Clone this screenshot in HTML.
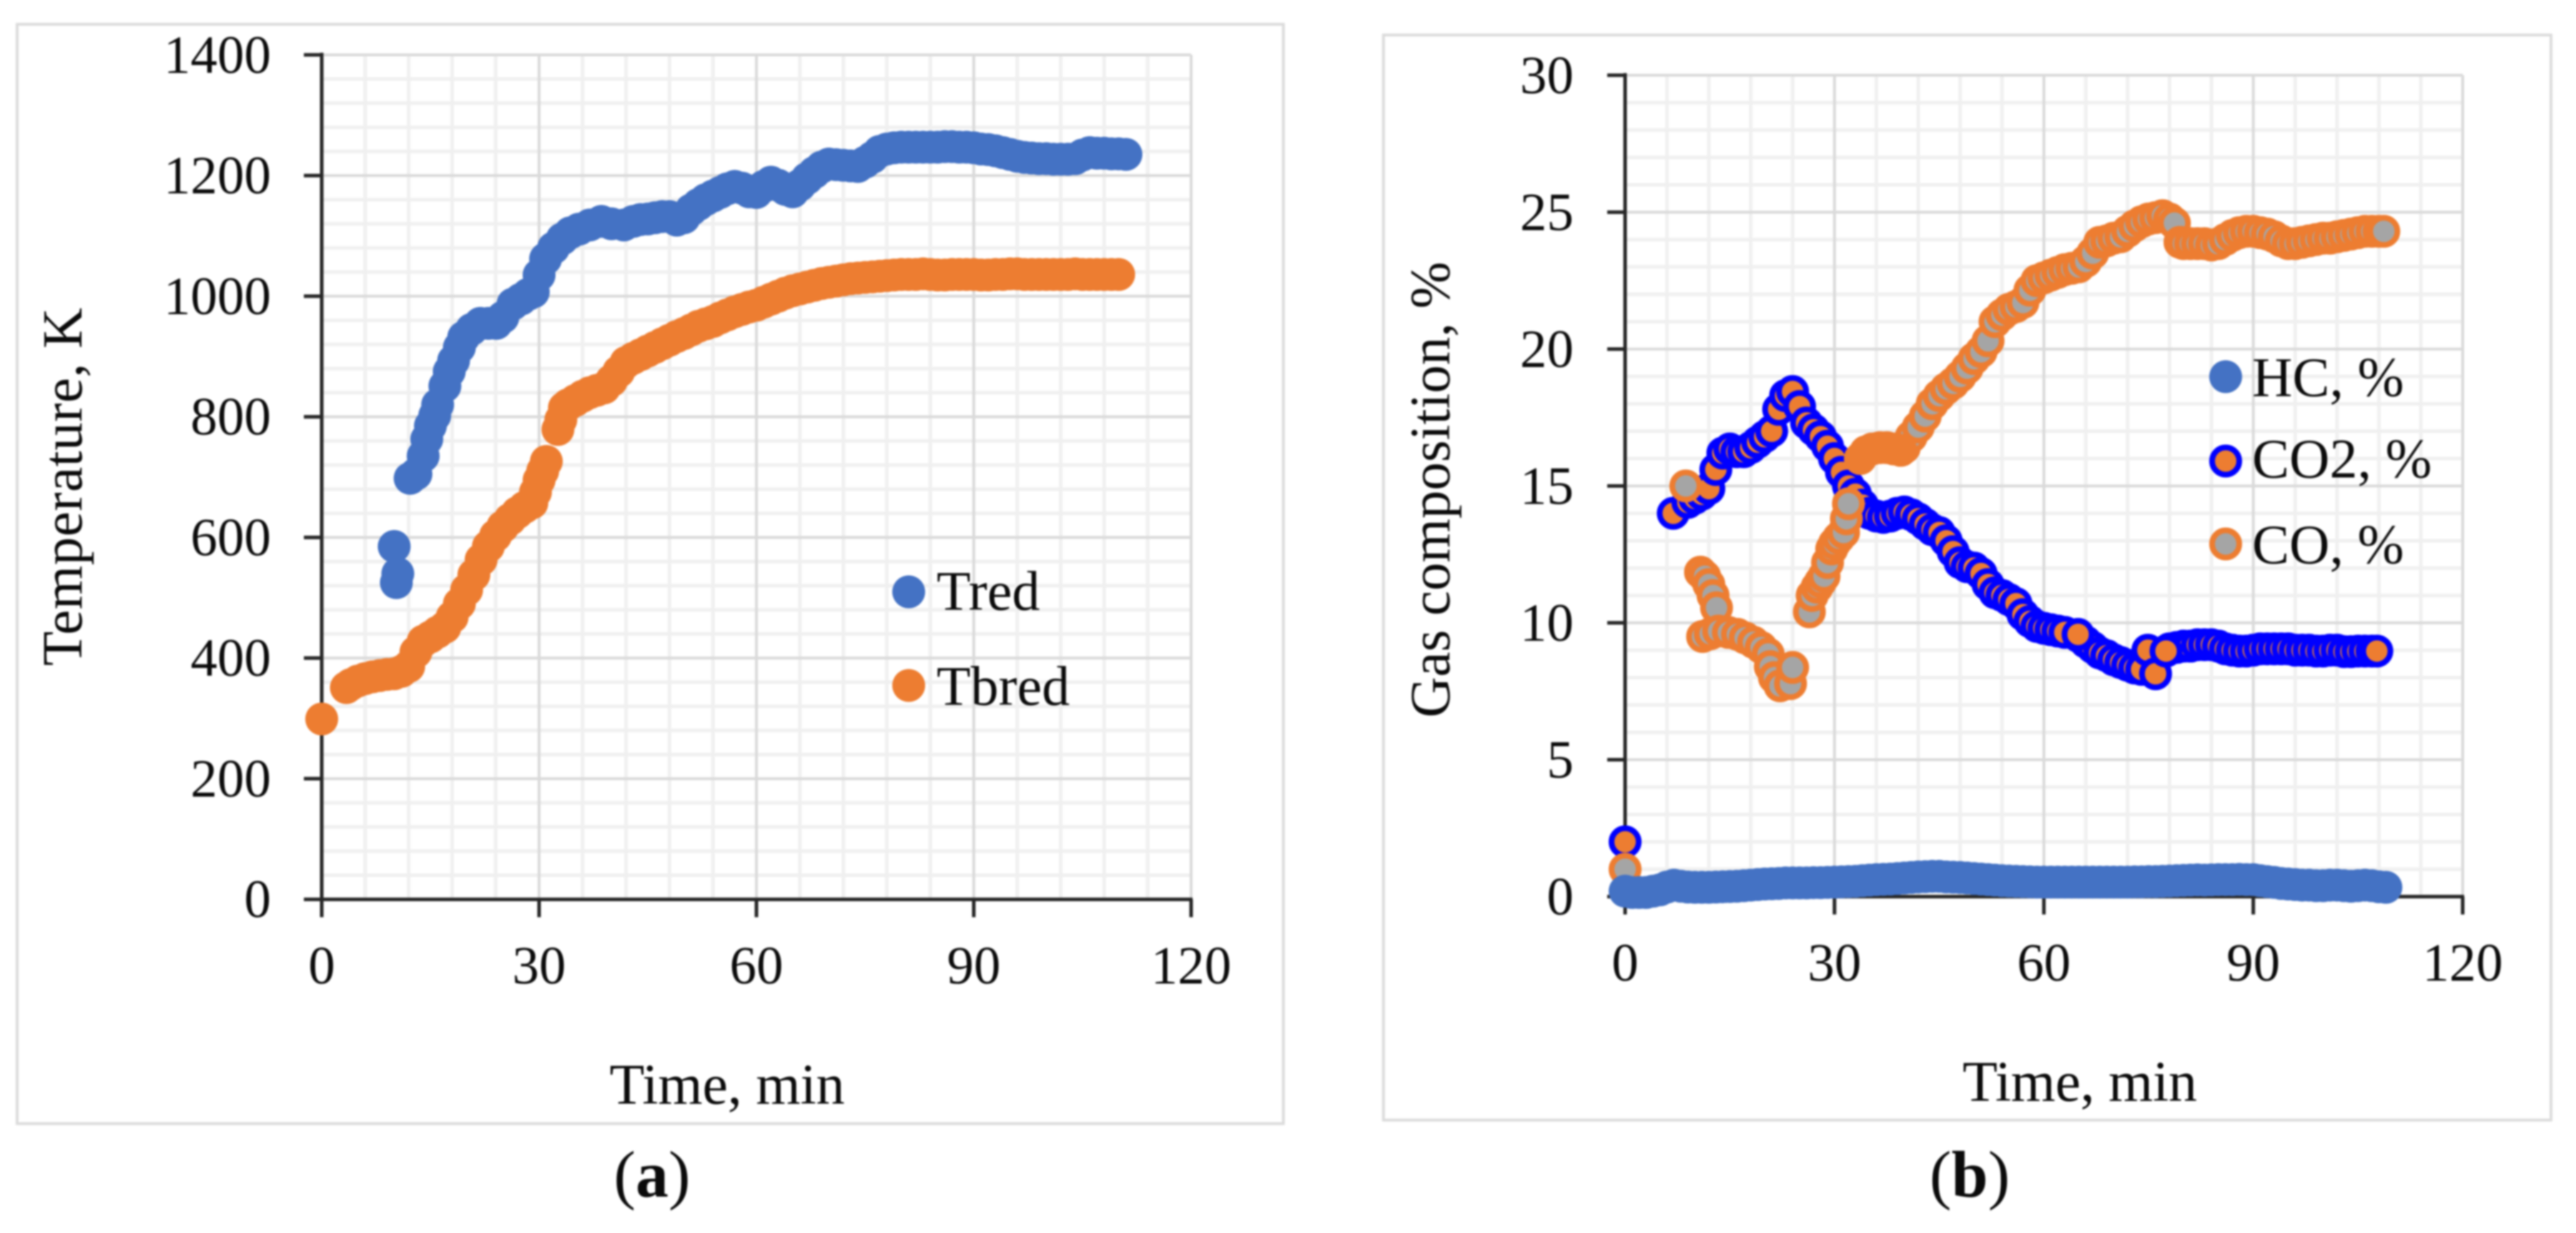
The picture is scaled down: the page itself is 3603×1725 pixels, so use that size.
<!DOCTYPE html>
<html lang="en">
<head>
<meta charset="utf-8">
<title>Temperature and gas composition over time</title>
<style>
html,body{margin:0;padding:0;background:#fff;width:3603px;height:1725px;overflow:hidden}
svg{display:block;filter:blur(1.3px)}
text{font-family:"Liberation Serif",serif;fill:#0a0a0a}
</style>
</head>
<body>
<svg id="figure" xmlns="http://www.w3.org/2000/svg" width="3603" height="1725" viewBox="0 0 3603 1725">
  <rect width="3603" height="1725" fill="#fff"/>
  <rect x="24" y="34" width="1771" height="1538" fill="#fff" stroke="#dcdcdc" stroke-width="4"/>
  <rect x="1935" y="49" width="1633" height="1518" fill="#fff" stroke="#dcdcdc" stroke-width="4"/>
  <g id="panel-a"></g>
  <g id="panel-b"></g>

  <text transform="translate(114 681) rotate(-90)" text-anchor="middle" font-size="79" textLength="501">Temperature, K</text>
  <text x="1017" y="1544" text-anchor="middle" font-size="80" textLength="329">Time, min</text>
  <text transform="translate(2027 685) rotate(-90)" text-anchor="middle" font-size="79" textLength="638">Gas composition, %</text>
  <text x="2909" y="1540" text-anchor="middle" font-size="80" textLength="328">Time, min</text>

  <g>
    <circle cx="1271" cy="828" r="23" fill="#4472c4"/>
    <text x="1310" y="853" font-size="78">Tred</text>
    <circle cx="1271" cy="959" r="23" fill="#ed7d31"/>
    <text x="1310" y="986" font-size="78">Tbred</text>
  </g>
  <g>
    <circle cx="3113" cy="527" r="23" fill="#4472c4"/>
    <text x="3150" y="554" font-size="78">HC, %</text>
    <circle cx="3113" cy="645" r="19" fill="#ed7d31" stroke="#0000ff" stroke-width="8"/>
    <text x="3150" y="668" font-size="78">CO2, %</text>
    <circle cx="3113" cy="761" r="19" fill="#a5a5a5" stroke="#ed7d31" stroke-width="8"/>
    <text x="3150" y="788" font-size="78">CO, %</text>
  </g>

  <text x="912" y="1674" text-anchor="middle" font-size="92">(<tspan font-weight="bold">a</tspan>)</text>
  <text x="2755" y="1674" text-anchor="middle" font-size="92">(<tspan font-weight="bold">b</tspan>)</text>
</svg>
<script>
const xTickLabels = [0, 30, 60, 90, 120];
const tempTickLabels = [0, 200, 400, 600, 800, 1000, 1200, 1400];
const gasTickLabels = [0, 5, 10, 15, 20, 25, 30];

const tredTime = [10,10.3,10.5,12.2,13,14,14.5,15,15.6,16,
17,17.6,18.2,19,19.6,20.7,21.9,23,24.1,25,
26.4,27.5,28.5,29.2,30,30.9,32,33.2,34.3,35.5,
37,38.6,40,41.7,43,44,45,46,47,48,
49,50,51,52,53,54,55,56,57,58,
59,60,61,62,63,64,65,66,67,68,
69,70,71,72,73,74,75,76,77,78,
79,80,81,82,83,84,85,86,87,88,
89,90,91,92,93,94,95,96,97,98,
99,100,101,102,103,104,105,106,107,108,
109,110,111];
const tredValues = [585,525,540,698,705,735,763,785,802,820,
851,875,893,915,932,945,955,955,955,965,
987,995,1003,1007,1035,1062,1080,1095,1105,1111,
1118,1124,1120,1118,1124,1127,1128,1130,1132,1132,
1126,1130,1143,1152,1160,1166,1172,1178,1182,1179,
1173,1172,1182,1189,1184,1177,1173,1184,1195,1205,
1214,1219,1218,1217,1216,1215,1222,1230,1240,1244,
1246,1247,1247,1247,1247,1247,1247,1248,1248,1247,
1247,1246,1244,1243,1241,1238,1235,1232,1230,1229,
1228,1228,1227,1227,1227,1228,1234,1238,1237,1237,
1236,1236,1235];

const tbredTime = [0,3.4,4,5,6,7,8,9,10,11,
12,13,14,15,16,17,18,19,20,21,
22,23,24,25,26,27,28,29,29.5,30,
30.5,31,32.6,33,33.5,34,35,36,37,38,
39,40,41,42,43,44,45,46,47,48,
49,50,51,52,53,54,55,56,57,58,
59,60,61,62,63,64,65,66,67,68,
69,70,71,72,73,74,75,76,77,78,
79,80,81,82,83,84,85,86,87,88,
89,90,91,92,93,94,95,96,97,98,
99,100,101,102,103,104,105,106,107,108,
109,110];
const tbredValues = [299,351,356,362,366,369,371,373,374,378,
386,410,428,435,443,451,468,490,513,538,
563,585,603,618,630,641,650,657,675,695,
710,726,779,795,815,820,827,834,840,844,
848,860,875,890,897,903,909,915,921,927,
933,938,944,950,954,958,964,969,974,978,
982,985,990,995,1000,1005,1009,1012,1015,1018,
1021,1023,1025,1027,1029,1030,1031,1032,1033,1034,
1035,1036,1036,1036,1037,1036,1035,1035,1036,1036,
1036,1036,1035,1035,1036,1036,1037,1037,1036,1036,
1036,1036,1036,1036,1036,1037,1036,1036,1036,1036,
1036,1036];

const hcTime = [0,1,2,3,4,5,6,7,8,9,
10,11,12,13,14,15,16,17,18,19,
20,21,22,23,24,25,26,27,28,29,
30,31,32,33,34,35,36,37,38,39,
40,41,42,43,44,45,46,47,48,49,
50,51,52,53,54,55,56,57,58,59,
60,61,62,63,64,65,66,67,68,69,
70,71,72,73,74,75,76,77,78,79,
80,81,82,83,84,85,86,87,88,89,
90,91,92,93,94,95,96,97,98,99,
100,101,102,103,104,105,106,107,108,109];
const hcValues = [0.2,0.15,0.15,0.15,0.2,0.25,0.35,0.42,0.38,0.35,
0.34,0.34,0.34,0.35,0.36,0.37,0.38,0.4,0.42,0.44,
0.46,0.47,0.48,0.5,0.5,0.5,0.5,0.51,0.51,0.52,
0.53,0.54,0.55,0.56,0.58,0.6,0.62,0.63,0.64,0.66,
0.68,0.7,0.72,0.73,0.74,0.74,0.72,0.71,0.7,0.68,
0.66,0.64,0.62,0.6,0.58,0.57,0.56,0.55,0.54,0.53,
0.53,0.53,0.53,0.53,0.53,0.53,0.53,0.53,0.53,0.53,
0.53,0.53,0.53,0.54,0.54,0.55,0.55,0.56,0.57,0.58,
0.59,0.6,0.61,0.6,0.61,0.62,0.62,0.62,0.63,0.62,
0.62,0.58,0.55,0.52,0.48,0.46,0.44,0.42,0.42,0.4,
0.4,0.42,0.42,0.4,0.38,0.4,0.42,0.4,0.36,0.34];

const co2Time = [0,6.9,9,10,11,12,13,14,15,16,
17,18,19,20,21,22,23,24,25,26,
27,28,29,30,31,32,33,34,35,36,
37,38,39,40,41,42,43,44,45,46,
47,48,49,50,51,52,53,54,55,56,
57,58,59,60,61,62,63,65,66,67,
68,69,70,71,72,73,74,74.9,78,79,
80,81,82,83,84,85,86,87,88,89,
90,91,92,93,94,95,96,97,98,99,
100,101,102,103,104,105,106,107,107.7,64.9,
76,77.5];
const co2Values = [2,14,14.4,14.55,14.7,14.9,15.6,16.2,16.35,16.25,
16.25,16.4,16.6,16.8,17,17.8,18.3,18.45,17.9,17.3,
17.05,16.8,16.45,16,15.5,15,14.7,14.3,14,13.9,
13.85,13.9,14,14.05,13.95,13.8,13.6,13.4,13.3,13,
12.6,12.2,12.05,12,11.8,11.4,11.1,11,10.85,10.7,
10.3,10.05,9.87,9.8,9.75,9.7,9.65,9.5,9.3,9.1,
8.9,8.8,8.65,8.55,8.45,8.35,8.3,9,9.05,9.1,
9.15,9.15,9.2,9.2,9.2,9.15,9.05,9,8.97,8.97,
9,9.05,9.05,9.05,9.05,9.05,9,9,9,8.97,
8.97,9,9,8.95,8.95,8.97,8.97,8.97,8.97,9.58,
8.14,8.97];

const coTime = [0,8.7,10.8,11.4,12,12.6,13.1,11.1,12.2,13.4,
14.8,16.1,17.2,18.4,19.5,20.5,20.8,21.4,22.2,23.7,
24,26.4,26.8,27.5,28,28.5,29,29.6,30,30.6,
31.3,31.7,32,40,41,42,43,44,45,46,
47,48,49,50,51,52,53,54,55,56,
57,58,59,60,61,62,63,64,65,66,
67,68,69,70,71,72,73,74,75,76,
77,78,78.7,79.5,80,81,82,83,84,85,
86,87,88,89,90,91,92,93,94,95,
96,97,98,99,100,101,102,103,104,105,
106,107,108,108.7];
const coValues = [1,15,11.85,11.7,11.4,11,10.55,9.5,9.6,9.7,
9.65,9.58,9.45,9.29,9.1,8.86,8.4,8,7.7,7.78,
8.37,10.4,11,11.3,11.5,11.7,12.2,12.7,12.9,13.1,
13.3,13.8,14.35,16.4,16.8,17.15,17.55,18,18.3,18.55,
18.75,19,19.3,19.65,19.9,20.3,21,21.25,21.45,21.55,
21.7,22.15,22.5,22.6,22.7,22.8,22.9,22.95,23,23.2,
23.5,23.9,23.95,24.05,24.1,24.3,24.5,24.65,24.75,24.8,
24.87,24.75,24.6,23.9,23.85,23.85,23.85,23.85,23.8,23.85,
24,24.15,24.25,24.3,24.3,24.25,24.2,24.1,23.95,23.85,
23.85,23.9,23.95,24,24.05,24.05,24.1,24.15,24.2,24.25,
24.3,24.3,24.3,24.3];

const coPlateauTime = [33.7,34.5,35.4,36.5,37.5,38.5,39.5];
const coPlateauValues = [16,16.25,16.35,16.4,16.4,16.35,16.3];

const SVG_NS = 'http://www.w3.org/2000/svg';
const panelA = document.getElementById('panel-a');
const panelB = document.getElementById('panel-b');

function scale(d0, d1, r0, r1) {
  return v => r0 + (v - d0) * (r1 - r0) / (d1 - d0);
}
const xA = scale(0, 120, 450, 1666);
const yA = scale(0, 1400, 1258.2, 76.8);
const xB = scale(0, 120, 2273, 3444.5);
const yB = scale(0, 30, 1254.4, 105.3);

function makeLine(parent, x1, y1, x2, y2, color, width) {
  const el = document.createElementNS(SVG_NS, 'line');
  el.setAttribute('x1', x1);
  el.setAttribute('y1', y1);
  el.setAttribute('x2', x2);
  el.setAttribute('y2', y2);
  el.setAttribute('stroke', color);
  el.setAttribute('stroke-width', width);
  parent.appendChild(el);
  return el;
}

function makeLabel(parent, x, y, anchor, content) {
  const el = document.createElementNS(SVG_NS, 'text');
  el.setAttribute('x', x);
  el.setAttribute('y', y);
  el.setAttribute('text-anchor', anchor);
  el.setAttribute('font-size', 75);
  el.textContent = content;
  parent.appendChild(el);
  return el;
}

function drawAxes(parent, xFn, yFn, xTicks, yTicks, yMinorStep, labelRight, xLabelBase, tickLen) {
  const xMax = xTicks[xTicks.length - 1];
  const yMax = yTicks[yTicks.length - 1];
  const x0 = xFn(0), x1 = xFn(xMax), y0 = yFn(0), y1 = yFn(yMax);

  for (let m = 0; m <= xMax; m += 6) {
    if (m % 30 === 0) continue;
    const g = makeLine(parent, xFn(m), y0, xFn(m), y1, '#f0f0f0', 5);
    
    
  }
  for (let v = 0; v <= yMax + 1e-6; v += yMinorStep) {
    if (yTicks.some(t => Math.abs(t - v) < 1e-6)) continue;
    const g = makeLine(parent, x0, yFn(v), x1, yFn(v), '#f0f0f0', 5);
    
    
  }
  xTicks.forEach(t => {
    if (t === 0) return;
    const g = makeLine(parent, xFn(t), y0, xFn(t), y1, '#dadada', 4);
    
    
  });
  yTicks.forEach(t => {
    if (t === 0) return;
    const g = makeLine(parent, x0, yFn(t), x1, yFn(t), '#dadada', 4);
    
    
  });

  const yAxis = makeLine(parent, x0, y0 + 3, x0, y1 - 3, '#262626', 5);
  
  
  const xAxis = makeLine(parent, x0, y0, x1 + 2, y0, '#262626', 5);
  
  

  yTicks.forEach(t => {
    const tick = makeLine(parent, x0 - tickLen, yFn(t), x0, yFn(t), '#262626', 5);
    
    
    const label = makeLabel(parent, labelRight, yFn(t) + 25, 'end', String(t));
    
    
  });
  xTicks.forEach(t => {
    const tick = makeLine(parent, xFn(t), y0, xFn(t), y0 + tickLen, '#262626', 5);
    
    
    const label = makeLabel(parent, xFn(t), xLabelBase, 'middle', String(t));
    
    
  });
}

function drawSeries(parent, times, values, xFn, yFn, fill, stroke, pointName) {
  times.forEach((t, i) => {
    const el = document.createElementNS(SVG_NS, 'circle');
    el.setAttribute('cx', xFn(t));
    el.setAttribute('cy', yFn(values[i]));
    el.setAttribute('r', stroke ? 19 : 23);
    el.setAttribute('fill', fill);
    if (stroke) {
      el.setAttribute('stroke', stroke);
      el.setAttribute('stroke-width', 8);
    }
    
    
    parent.appendChild(el);
  });
}

drawAxes(panelA, xA, yA, xTickLabels, tempTickLabels, 40, 379, 1376, 25);
drawSeries(panelA, tredTime, tredValues, xA, yA, '#4472c4', null, 'tred-point');
drawSeries(panelA, tbredTime, tbredValues, xA, yA, '#ed7d31', null, 'tbred-point');

drawAxes(panelB, xB, yB, xTickLabels, gasTickLabels, 1, 2201, 1372, 25);
drawSeries(panelB, co2Time, co2Values, xB, yB, '#ed7d31', '#0000ff', 'co2-point');
drawSeries(panelB, coTime, coValues, xB, yB, '#a5a5a5', '#ed7d31', 'co-point');
drawSeries(panelB, coPlateauTime, coPlateauValues, xB, yB, '#ed7d31', '#ed7d31', 'co-plateau-point');
drawSeries(panelB, hcTime, hcValues, xB, yB, '#4472c4', null, 'hc-point');
</script>
</body>
</html>
